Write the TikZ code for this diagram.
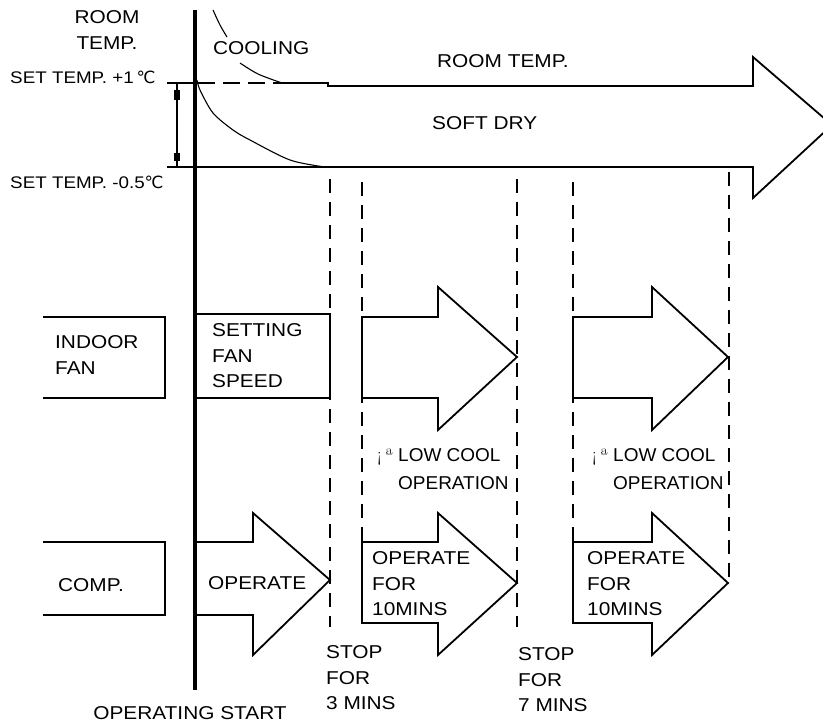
\documentclass[tikz,border=0pt]{standalone}
\usepackage{fontspec}
\setmainfont{Liberation Sans}[FakeStretch=1.12]
\newfontfamily\narrowfont{Liberation Sans}[FakeStretch=1.02]
\newfontfamily\symfont{DejaVu Sans}
\newfontfamily\lmfont{Latin Modern Roman}
\usetikzlibrary{positioning}
\tikzset{
    lbl/.style={inner sep=0pt, align=left, font=\fontsize{18.6}{25.5}\selectfont},
    narrowlbl/.style={inner sep=0pt, align=left, font=\narrowfont\fontsize{18.6}{25.5}\selectfont},
    smalllbl/.style={inner sep=0pt, font=\fontsize{16.8}{20}\selectfont},
    line/.style={line width=1.8pt, line join=miter},
    thinline/.style={line width=1.1pt},
    guide/.style={line width=1.8pt, dash pattern=on 14pt off 9pt},
    timeline/.style={line width=4pt}
}
\newcommand{\degC}{{\symfont ℃}}
\newcommand{\lowsign}{\llap{{\lmfont\fontsize{18}{18}\selectfont ¡\hspace{4pt}ª}\hspace{5pt}}}

\begin{document}
\begin{tikzpicture}[x=1pt, y=-1pt]
    \useasboundingbox (0,0) rectangle (823,724);
    \clip (0,0) rectangle (823,724);

    % temperature band
    \draw[line] (167,83) -- (195,83);
    \draw[line, dash pattern=on 17pt off 8pt] (198,83) -- (280,83);
    \draw[line] (280,83) -- (328,83) -- (328,86) -- (753,86) -- (753,57) -- (832,125);
    \draw[line] (167,167) -- (753,167) -- (753,198) -- (832,125);

    % tolerance bracket
    \draw[thinline] (177,83) -- (177,167);
    \fill (174,90) rectangle (180,100);
    \fill (174,153) rectangle (180,161);

    % cooling curves
    \draw[thinline] plot[smooth] coordinates {(213,10) (220,25) (227,37)};
    \draw[thinline] plot[smooth] coordinates {(240,63) (258,74) (282,83)};
    \draw[thinline] plot[smooth] coordinates {(197,80) (200,90) (213,113) (233,130) (250,140) (290,160) (325,167)};

    % time guides
    \foreach \x/\ya/\yb in {330/179/627, 362/182/542, 517/179/627, 573/182/542, 729/172/583}
        \draw[guide] (\x,\ya) -- (\x,\yb);

    % operating start
    \draw[timeline] (195,10) -- (195,690);

    % indoor fan row
    \draw[line] (43,317) -- (165,317) -- (165,398) -- (43,398);
    \draw[line] (197,314) -- (330,314) -- (330,398) -- (197,398);
    \draw[line] (362,317) -- (438,317) -- (438,287) -- (517,357) -- (438,430) -- (438,398) -- (362,398) -- cycle;
    \draw[line] (573,317) -- (652,317) -- (652,287) -- (728,357) -- (652,430) -- (652,398) -- (573,398) -- cycle;

    % compressor row
    \draw[line] (43,542) -- (165,542) -- (165,615) -- (43,615);
    \draw[line] (197,542) -- (253,542) -- (253,513) -- (330,580) -- (253,655) -- (253,615) -- (197,615);
    \draw[line] (362,542) -- (438,542) -- (438,513) -- (517,583) -- (438,655) -- (438,623) -- (362,623) -- cycle;
    \draw[line] (573,542) -- (652,542) -- (652,513) -- (728,583) -- (652,655) -- (652,623) -- (573,623) -- cycle;

    % labels
    \node[lbl, align=center] (roomlbl) at (107,30) {ROOM\\TEMP.};
    \node[smalllbl, anchor=west] (setup) at (10,77) {SET TEMP. +1\,\degC};
    \node[smalllbl, anchor=west] (setdown) at (10,182) {SET TEMP. -0.5\degC};
    \node[lbl, anchor=west] (cooling) at (213,48) {COOLING};
    \node[lbl, anchor=west] (roomtemp) at (437,61) {ROOM TEMP.};
    \node[lbl, anchor=west] (softdry) at (432,123) {SOFT DRY};

    \node[lbl, anchor=west] (indoor) at (55,355) {INDOOR\\FAN};
    \node[lbl, anchor=west] (setting) at (212,356) {SETTING\\FAN\\SPEED};
    \node[narrowlbl, anchor=west] (lowcoola) at (398,469) {\lowsign LOW COOL\\[2.5pt]OPERATION};
    \node[narrowlbl, anchor=west] (lowcoolb) at (613,469) {\lowsign LOW COOL\\[2.5pt]OPERATION};

    \node[lbl, anchor=west] (comp) at (58,585) {COMP.};
    \node[lbl, anchor=west] (operate) at (208,583) {OPERATE};
    \node[lbl, anchor=west] (opera) at (372,584) {OPERATE\\FOR\\10MINS};
    \node[lbl, anchor=west] (operb) at (587,584) {OPERATE\\FOR\\10MINS};

    \node[lbl] (start) at (190,713) {OPERATING START};
    \node[lbl, anchor=west] (stopa) at (326,678) {STOP\\FOR\\3 MINS};
    \node[lbl, anchor=west] (stopb) at (518,680) {STOP\\FOR\\7 MINS};
\end{tikzpicture}
\end{document}
